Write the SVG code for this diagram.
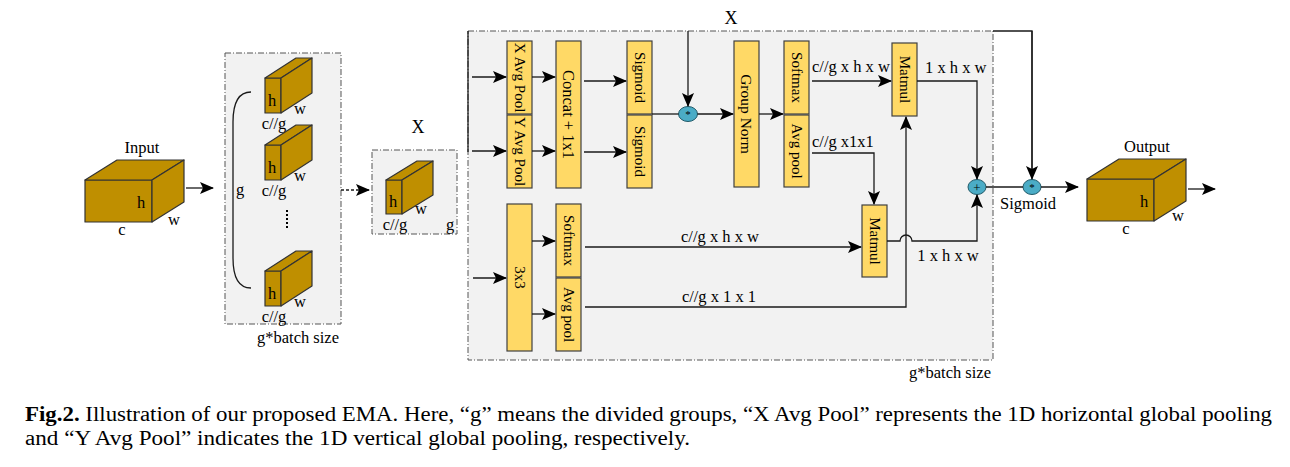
<svg xmlns="http://www.w3.org/2000/svg" width="1290" height="467" viewBox="0 0 1290 467">
<style>
text{font-family:"Liberation Serif","Times New Roman",serif;fill:#000}
.lbl{font-size:16.5px}
.mid{text-anchor:middle}
.cube{fill:#BF8F00;stroke:#333;stroke-width:1.2;stroke-linejoin:round}
.box{fill:#FFD966;stroke:#404040;stroke-width:1.2}
.panel{fill:#F2F2F2;stroke:#555;stroke-width:1;stroke-dasharray:6,2,1,2}
.ln{fill:none;stroke:#1a1a1a;stroke-width:1.3}
.arr{fill:none;stroke:#1a1a1a;stroke-width:1.3;marker-end:url(#ah)}
.op{fill:#4BACC6;stroke:#215968;stroke-width:1}
.vt{font-size:15px;text-anchor:middle;dominant-baseline:central}
.cap{font-size:20px}
</style>
<defs>
<marker id="ah" viewBox="0 0 14 12" refX="13" refY="6" markerWidth="14" markerHeight="12" markerUnits="userSpaceOnUse" orient="auto">
<path d="M0,0 L14,6 L0,12 L3,6 z" fill="#000"/>
</marker>
</defs>
<rect width="1290" height="467" fill="#fff"/>

<!-- panels -->
<g id="group-panel">
<rect class="panel" x="225" y="53" width="116" height="271"/>
<text class="lbl mid" x="298" y="343">g*batch size</text>
</g>
<g id="x-panel">
<rect class="panel" x="372" y="150" width="85" height="84"/>
<text class="mid" x="418" y="133" style="font-size:18px">X</text>
</g>
<g id="ema-panel">
<rect class="panel" x="468" y="31" width="525" height="329"/>
<text class="lbl mid" x="950" y="378">g*batch size</text>
<text class="mid" x="731" y="24" style="font-size:18px">X</text>
</g>

<!-- input cube -->
<g id="input">
<text class="lbl mid" x="142" y="153">Input</text>
<rect class="cube" x="85" y="180" width="67" height="42"/>
<polygon class="cube" points="85,180 117,160 184,160 152,180"/>
<polygon class="cube" points="152,180 184,160 184,202 152,222"/>
<text class="lbl" x="137" y="208">h</text>
<text class="lbl mid" x="122" y="235">c</text>
<text class="lbl mid" x="174" y="225">w</text>
</g>

<!-- grouped slabs -->
<g id="slab1">
<rect class="cube" x="265" y="78" width="16" height="35"/>
<polygon class="cube" points="265,78 296,58 312,58 281,78"/>
<polygon class="cube" points="281,78 312,58 312,93 281,113"/>
<text class="lbl mid" x="272" y="106">h</text>
<text class="lbl mid" x="300" y="114">w</text>
<text class="lbl mid" x="274" y="129">c//g</text>
</g>
<g id="slab2">
<rect class="cube" x="265" y="145" width="16" height="35"/>
<polygon class="cube" points="265,145 296,125 312,125 281,145"/>
<polygon class="cube" points="281,145 312,125 312,160 281,180"/>
<text class="lbl mid" x="272" y="173">h</text>
<text class="lbl mid" x="300" y="181">w</text>
<text class="lbl mid" x="274" y="196">c//g</text>
</g>
<g id="slab3">
<rect class="cube" x="265" y="271" width="16" height="35"/>
<polygon class="cube" points="265,271 296,251 312,251 281,271"/>
<polygon class="cube" points="281,271 312,251 312,286 281,306"/>
<text class="lbl mid" x="272" y="299">h</text>
<text class="lbl mid" x="300" y="307">w</text>
<text class="lbl mid" x="274" y="322">c//g</text>
</g>
<g id="bracket">
<path class="ln" d="M251,92 Q233,92 233,122 V258 Q233,288 251,288"/>
<text class="lbl mid" x="240" y="195">g</text>
<line x1="287" y1="210" x2="287" y2="229" stroke="#000" stroke-width="2" stroke-dasharray="2,2"/>
</g>

<!-- middle slab -->
<g id="x-slab">
<rect class="cube" x="386" y="180" width="16" height="34"/>
<polygon class="cube" points="386,180 417,161 433,161 402,180"/>
<polygon class="cube" points="402,180 433,161 433,195 402,214"/>
<text class="lbl mid" x="393" y="207">h</text>
<text class="lbl mid" x="421" y="214">w</text>
<text class="lbl mid" x="395" y="230">c//g</text>
<text class="lbl mid" x="450" y="230">g</text>
</g>

<!-- EMA boxes -->
<g id="xavgpool"><rect class="box" x="507" y="41" width="25" height="73"/><text class="vt" transform="translate(519.5,77.5) rotate(90)">X Avg Pool</text></g>
<g id="yavgpool"><rect class="box" x="507" y="115" width="25" height="73"/><text class="vt" transform="translate(519.5,151.5) rotate(90)">Y Avg Pool</text></g>
<g id="concat"><rect class="box" x="556" y="41" width="25" height="147"/><text class="vt" style="font-size:16.5px" transform="translate(568.5,114.5) rotate(90)">Concat + 1x1</text></g>
<g id="sigmoid1"><rect class="box" x="627" y="41" width="25" height="73"/><text class="vt" transform="translate(639.5,77.5) rotate(90)">Sigmoid</text></g>
<g id="sigmoid2"><rect class="box" x="627" y="115" width="25" height="73"/><text class="vt" transform="translate(639.5,151.5) rotate(90)">Sigmoid</text></g>
<g id="mul1"><ellipse class="op" cx="688" cy="114" rx="9.5" ry="7.5"/><text class="mid" x="688" y="118" style="font-size:11px">*</text></g>
<g id="groupnorm"><rect class="box" x="734" y="41" width="25" height="146"/><text class="vt" style="font-size:15.5px" transform="translate(746.5,114) rotate(90)">Group Norm</text></g>
<g id="softmax1"><rect class="box" x="784" y="41" width="25" height="73"/><text class="vt" transform="translate(796.5,77.5) rotate(90)">Softmax</text></g>
<g id="avgpool1"><rect class="box" x="784" y="115" width="25" height="72"/><text class="vt" transform="translate(796.5,151) rotate(90)">Avg pool</text></g>
<g id="matmul1"><rect class="box" x="892" y="43" width="25" height="73"/><text class="vt" transform="translate(904.5,79.5) rotate(90)">Matmul</text></g>
<g id="conv3"><rect class="box" x="507" y="204" width="25" height="147"/><text class="vt" transform="translate(519.5,277.5) rotate(90)">3x3</text></g>
<g id="softmax2"><rect class="box" x="556" y="204" width="25" height="73"/><text class="vt" transform="translate(568.5,240.5) rotate(90)">Softmax</text></g>
<g id="avgpool2"><rect class="box" x="556" y="278" width="25" height="73"/><text class="vt" transform="translate(568.5,314.5) rotate(90)">Avg pool</text></g>
<g id="matmul2"><rect class="box" x="862" y="205" width="25" height="72"/><text class="vt" transform="translate(874.5,241) rotate(90)">Matmul</text></g>
<g id="add"><ellipse class="op" cx="977" cy="187" rx="9" ry="7.5"/><text class="mid" x="977" y="191.5" style="font-size:13px">+</text></g>
<g id="mul2"><ellipse class="op" cx="1032" cy="187" rx="9" ry="7.5"/><text class="mid" x="1032" y="191" style="font-size:11px">*</text><text class="lbl mid" x="1028" y="209">Sigmoid</text></g>

<!-- output cube -->
<g id="output">
<text class="lbl mid" x="1147" y="152">Output</text>
<rect class="cube" x="1087" y="179" width="67" height="42"/>
<polygon class="cube" points="1087,179 1119,159 1186,159 1154,179"/>
<polygon class="cube" points="1154,179 1186,159 1186,201 1154,221"/>
<text class="lbl" x="1140" y="207">h</text>
<text class="lbl mid" x="1126" y="234">c</text>
<text class="lbl mid" x="1178" y="221">w</text>
</g>

<!-- connectors -->
<g id="connectors">
<line class="arr" x1="186" y1="188" x2="213" y2="188"/>
<line class="arr" x1="341" y1="190" x2="369" y2="190" stroke-dasharray="3,2"/>
<path class="ln" d="M468,152 V31"/>
<path class="ln" d="M993,31 H1032 V170"/>
<path class="arr" d="M1032,31 V179"/>
<path class="arr" d="M688,31 V106"/>
<line class="arr" x1="472" y1="77" x2="506" y2="77"/>
<line class="arr" x1="472" y1="151" x2="506" y2="151"/>
<line class="arr" x1="473" y1="278" x2="506" y2="278"/>
<line class="arr" x1="532" y1="77" x2="555" y2="77"/>
<line class="arr" x1="532" y1="151" x2="555" y2="151"/>
<line class="arr" x1="584" y1="81" x2="626" y2="81"/>
<line class="arr" x1="584" y1="152" x2="626" y2="152"/>
<line class="ln" x1="652" y1="114" x2="678.5" y2="114"/>
<line class="arr" x1="697.5" y1="114" x2="733" y2="114"/>
<line class="arr" x1="759" y1="114" x2="783" y2="114"/>
<line class="arr" x1="812" y1="81" x2="891" y2="81"/>
<text class="lbl" x="812" y="72">c//g x h x w</text>
<path class="arr" d="M812,153 H874 V204"/>
<text class="lbl" x="812" y="147">c//g x1x1</text>
<path class="arr" d="M917,81 H977 V179"/>
<text class="lbl" x="925" y="73">1 x h x w</text>
<line class="arr" x1="532" y1="241" x2="555" y2="241"/>
<line class="arr" x1="532" y1="314" x2="555" y2="314"/>
<line class="arr" x1="585" y1="247" x2="861" y2="247"/>
<text class="lbl mid" x="720" y="242">c//g x h x w</text>
<path class="arr" d="M585,307 H906 V117"/>
<text class="lbl mid" x="719" y="302">c//g  x 1 x 1</text>
<path class="arr" d="M887,241 H900 A6,6 0 0 1 912,241 H977 V195"/>
<text class="lbl mid" x="948" y="261">1 x h x w</text>
<line class="ln" x1="986" y1="187" x2="1023" y2="187"/>
<line class="arr" x1="1041" y1="187" x2="1078" y2="187"/>
<line class="arr" x1="1188" y1="189" x2="1215" y2="189"/>
</g>

<!-- caption -->
<g id="caption">
<text class="cap" x="25" y="421" textLength="1247" lengthAdjust="spacingAndGlyphs"><tspan font-weight="bold">Fig.2.</tspan> Illustration of our proposed EMA. Here, “g” means the divided groups, “X Avg Pool” represents the 1D horizontal global pooling</text>
<text class="cap" x="25" y="445" textLength="665" lengthAdjust="spacingAndGlyphs">and “Y Avg Pool” indicates the 1D vertical global pooling, respectively.</text>
</g>
</svg>
